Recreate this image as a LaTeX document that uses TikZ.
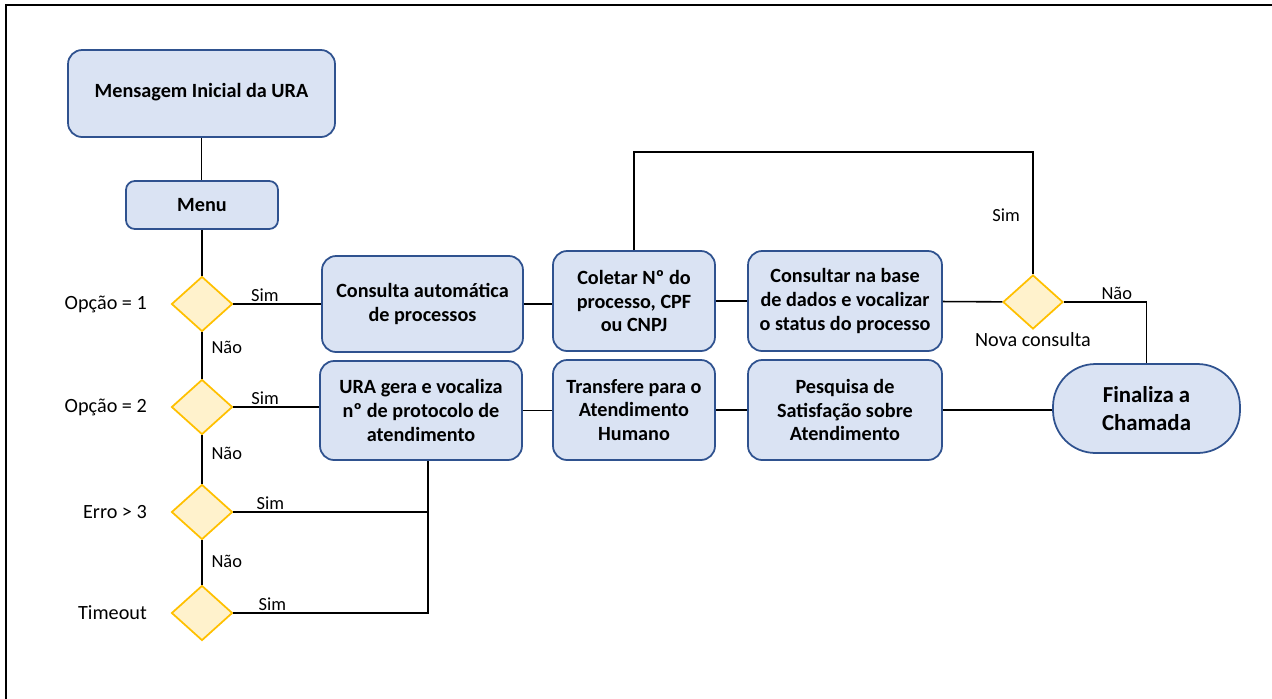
\documentclass[tikz,border=0pt]{standalone}
\usepackage{fontspec}
\setmainfont{Carlito}
\usetikzlibrary{shapes.geometric,positioning,calc}
\definecolor{boxfill}{RGB}{218,227,243}
\definecolor{boxedge}{RGB}{47,82,143}
\definecolor{decfill}{RGB}{255,242,204}
\definecolor{decedge}{RGB}{255,192,0}

\begin{document}
\begin{tikzpicture}[x=0.02cm, y=-0.02cm,
  font=\fontsize{11.5}{13.6}\selectfont,
  stepbox/.style={draw=boxedge, fill=boxfill, line width=1pt, rounded corners=8pt,
    align=center, inner sep=2pt, font=\fontsize{11.5}{13.6}\selectfont\bfseries},
  decision/.style={diamond, draw=decedge, fill=decfill, line width=1pt,
    minimum width=1.22cm, minimum height=1.1cm, inner sep=0pt},
  cond/.style={font=\fontsize{11.5}{13.6}\selectfont, label distance=10pt},
  lbl/.style={font=\fontsize{10.5}{12}\selectfont, inner sep=1pt},
  link/.style={draw=black, line width=0.9pt}]
  \useasboundingbox (0,0) rectangle (1272,698);
  \draw[line width=1.2pt] (6,5) rectangle (1300,720);

  % menu column
  \node[stepbox, minimum width=5.34cm, minimum height=1.74cm] (msg) at (201.5,93.5)
    {\raisebox{4pt}{Mensagem Inicial da URA}};
  \node[stepbox, minimum width=3.04cm, minimum height=0.96cm, rounded corners=5pt]
    (menu) at (202,205) {Menu};
  \node[decision, label={[cond]left:Opção = 1}] (d1) at (202,304) {};
  \node[decision, label={[cond]left:Opção = 2}] (d2) at (202,407) {};
  \node[decision, label={[cond]left:Erro > 3}] (d3) at (202,512) {};
  \node[decision, label={[cond]left:Timeout}] (d4) at (202,613) {};

  % process boxes
  \node[stepbox, minimum width=4.02cm, minimum height=1.92cm] (consulta) at (422.5,304)
    {Consulta automática\\de processos};
  \node[stepbox, minimum width=4.04cm, minimum height=1.98cm] (ura) at (421,410.5)
    {URA gera e vocaliza\\nº de protocolo de\\atendimento};
  \node[stepbox, minimum width=3.24cm, minimum height=2cm] (coletar) at (634,301)
    {Coletar Nº do\\processo, CPF\\ou CNPJ};
  \node[stepbox, minimum width=3.24cm, minimum height=2cm] (transfere) at (634,410)
    {Transfere para o\\Atendimento\\Humano};
  \node[stepbox, minimum width=3.88cm, minimum height=2cm] (consultar) at (845,301)
    {Consultar na base\\de dados e vocalizar\\o status do processo};
  \node[stepbox, minimum width=3.88cm, minimum height=2cm] (pesquisa) at (845,410)
    {Pesquisa de\\Satisfação sobre\\Atendimento};
  \node[decision, minimum width=1.2cm, minimum height=1.08cm,
    label={[cond, label distance=-2pt]below:Nova consulta}] (nova) at (1033,302) {};
  \node[stepbox, rounded corners=0.85cm, minimum width=3.74cm, minimum height=1.78cm,
    font=\fontsize{13}{16}\selectfont\bfseries] (fim) at (1146.5,408.5) {Finaliza a\\Chamada};

  \coordinate (join) at (428,613);
  \coordinate (loop) at (634,152);

  % connectors
  \draw[link] (msg.south) -- (msg.south |- menu.north);
  \draw[link] (menu) -- (d1);
  \draw[link] (d1) -- node[lbl, right=4pt, pos=0.33] {Não} (d2);
  \draw[link] (d2) -- node[lbl, right=4pt, pos=0.37] {Não} (d3);
  \draw[link] (d3) -- node[lbl, right=4pt, pos=0.47] {Não} (d4);
  \draw[link] (d1.east) -- node[lbl, above, pos=0.36] {Sim} (d1.east -| consulta.west);
  \draw[link] (d2.east) -- node[lbl, above, pos=0.37] {Sim} (d2.east -| ura.west);
  \draw[link] (d3.east) -- node[lbl, above, pos=0.19] {Sim} (d3.east -| join);
  \draw[link] (d4.east) -- node[lbl, above, pos=0.2] {Sim} (join) -- (join |- ura.south);
  \draw[link] (consulta.east) -- (consulta.east -| coletar.west);
  \draw[link] (ura.east) -- (ura.east -| transfere.west);
  \draw[link] (coletar) -- (consultar);
  \draw[link] (transfere) -- (pesquisa);
  \draw[link] (consultar) -- (nova);
  \draw[link] (pesquisa.east) -- (pesquisa.east -| fim.west);
  \draw[link] (nova.east) -| node[lbl, above, pos=0.32] {Não} (fim.north);
  \draw[link] (coletar.north) -- (loop) -| node[lbl, left=6pt, pos=0.76] {Sim} (nova.north);
\end{tikzpicture}
\end{document}
